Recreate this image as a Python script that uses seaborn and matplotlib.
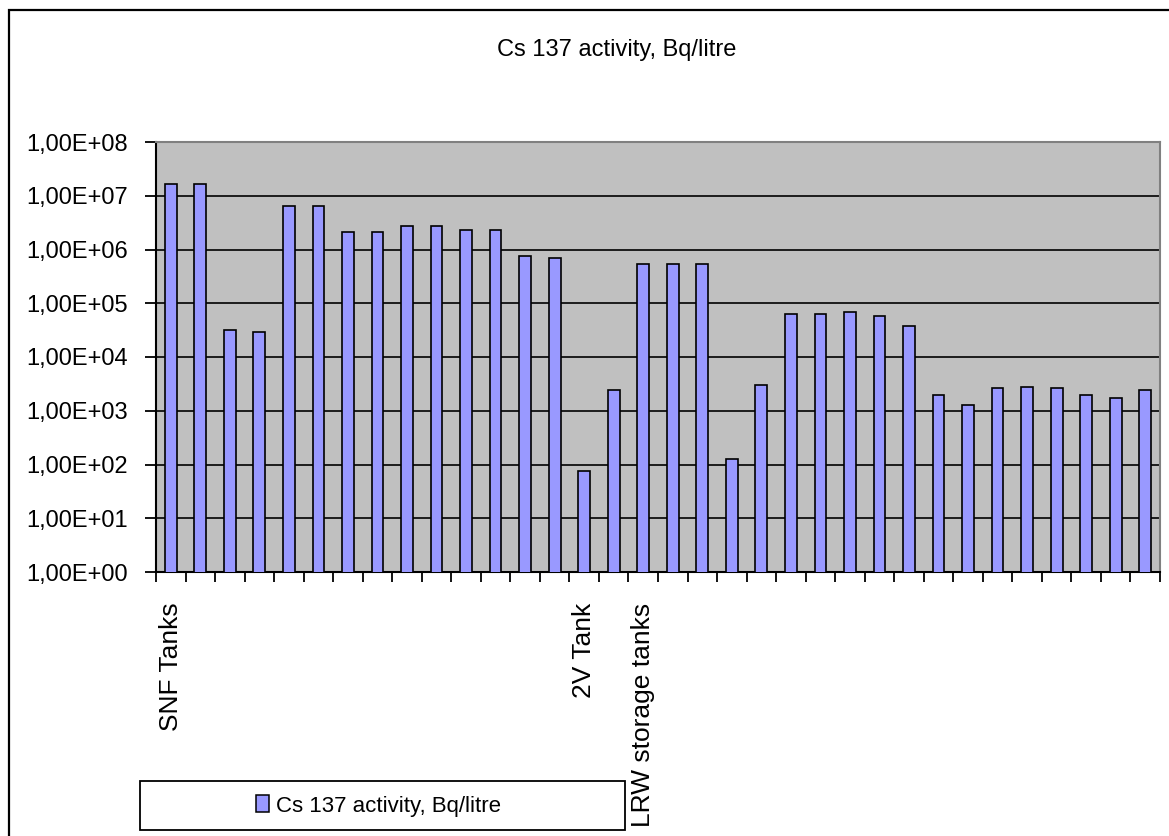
import pandas as pd
import seaborn as sns
import matplotlib.pyplot as plt
from matplotlib.patches import Rectangle, Patch
from matplotlib.ticker import FixedLocator, FuncFormatter

# Cs 137 activity per tank (log scale)
tank_ids = [f"T{i:02d}" for i in range(1, 35)]
tank_labels = (["SNF Tanks"] + [""] * 13 + ["2V Tank", "", "LRW storage tanks"]
               + [""] * 17)
activity = [1.66e7, 1.66e7, 3.2e4, 2.9e4, 6.4e6, 6.4e6, 2.1e6, 2.1e6,
            2.7e6, 2.7e6, 2.3e6, 2.3e6, 7.6e5, 7.0e5, 75, 2.4e3,
            5.4e5, 5.4e5, 5.4e5, 124, 3.0e3, 6.4e4, 6.4e4, 7.0e4,
            5.9e4, 3.8e4, 2.0e3, 1.3e3, 2.6e3, 2.8e3, 2.6e3, 2.0e3,
            1.7e3, 2.4e3]
series_name = "Cs 137 activity, Bq/litre"

df = pd.DataFrame({"tank": tank_ids, "activity": activity})

sns.set_theme(style="ticks")
plt.rcParams['font.family'] = ['Liberation Sans', 'DejaVu Sans']
plt.rcParams['text.color'] = 'black'
plt.rcParams['xtick.color'] = 'black'
plt.rcParams['ytick.color'] = 'black'
plt.rcParams['xtick.labelcolor'] = 'black'
plt.rcParams['ytick.labelcolor'] = 'black'

W, H = 1169, 836
fig = plt.figure(figsize=(W / 100, H / 100), dpi=100)
ax = fig.add_axes([156 / W, 1 - 572 / H, (1160 - 156) / W, (572 - 142) / H])
ax.set_facecolor('#C0C0C0')

sns.barplot(data=df, x='tank', y='activity', order=tank_ids, color='#9999FF',
            saturation=1, edgecolor='black', linewidth=1.2, width=0.4, ax=ax,
            zorder=3)
ax.set_yscale('log')
ax.set_ylim(1, 1e8)
ax.set_xlim(-0.5, len(tank_ids) - 0.5)

# y axis: decades, Excel-style labels
ax.yaxis.set_major_locator(FixedLocator([10.0 ** k for k in range(9)]))
ax.yaxis.set_minor_locator(FixedLocator([]))
ax.yaxis.set_major_formatter(FuncFormatter(lambda v, p: f"{v:.2E}".replace('.', ',')))
ax.tick_params(axis='y', which='major', direction='out', length=8, width=1.3,
               color='black', labelcolor='black', labelsize=17, pad=12)
ax.grid(axis='y', color='black', linewidth=1.2, zorder=1)
ax.set_axisbelow(True)

# x axis: labels centred on bars, tick marks between bars
ax.set_xticks(range(len(tank_ids)))
ax.set_xticklabels(tank_labels, rotation=90, va='top', ha='center', fontsize=19,
                   color='black')
ax.xaxis.set_minor_locator(FixedLocator([i - 0.5 for i in range(len(tank_ids) + 1)]))
ax.tick_params(axis='x', which='major', length=0, pad=22)
ax.tick_params(axis='x', which='minor', direction='out', length=7, width=1.3, color='black')
ax.set_xlabel("")
ax.set_ylabel("")

for side in ['left', 'bottom']:
    ax.spines[side].set_color('black')
    ax.spines[side].set_linewidth(1.5)
for side in ['top', 'right']:
    ax.spines[side].set_visible(True)
    ax.spines[side].set_color('#808080')
    ax.spines[side].set_linewidth(1.5)

fig.text(617 / W, 1 - 50 / H, series_name, ha='center', va='center', fontsize=17,
         color='black')

# outer chart frame
fig.patches.append(Rectangle((8.5 / W, -0.05), 1.2, 1.05 - 9.5 / H, transform=fig.transFigure,
                             fill=False, edgecolor='black', linewidth=1.6, clip_on=False))

# legend box
fig.patches.append(Rectangle((140 / W, 1 - 830 / H), 485 / W, 49 / H, transform=fig.transFigure,
                             facecolor='white', edgecolor='black', linewidth=1.3))
leg = fig.legend(handles=[Patch(facecolor='#9999FF', edgecolor='black', linewidth=1.1)],
                 labels=[series_name], loc='center', bbox_to_anchor=(378 / W, 1 - 806 / H),
                 frameon=False, fontsize=16, handlelength=0.6, handleheight=0.8,
                 handletextpad=0.3)
for t in leg.get_texts():
    t.set_color('black')

fig.savefig('out.png', dpi=100)
